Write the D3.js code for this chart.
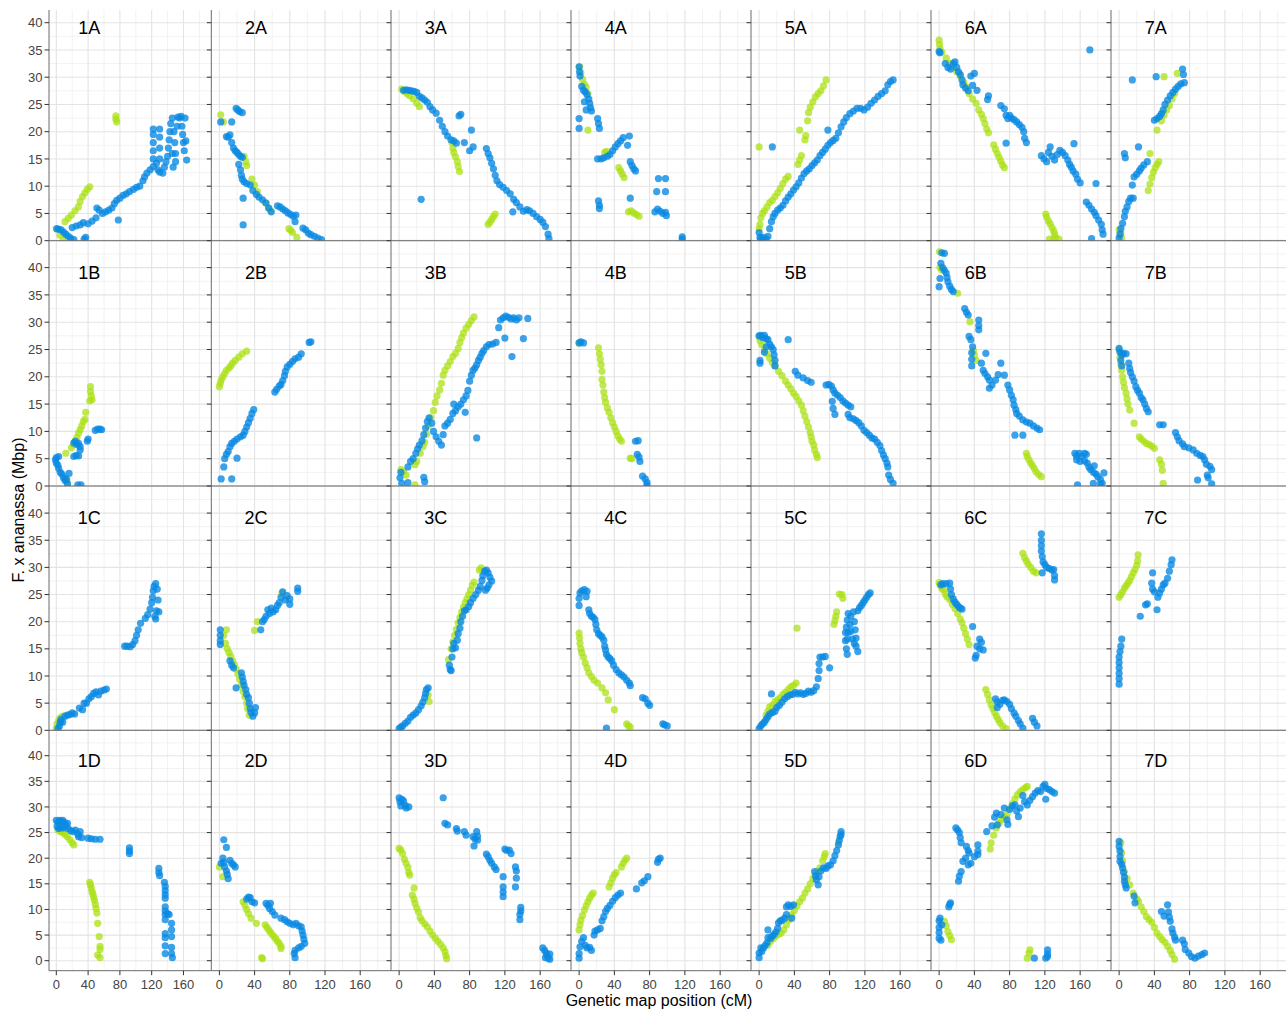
<!DOCTYPE html>
<html>
<head>
<meta charset="utf-8">
<script src="https://cdn.jsdelivr.net/npm/d3@7"></script>
<style>
  body { margin: 0; background: #fff; }
  svg { display: block; }
  text { font-family: "Liberation Sans", Arial, sans-serif; }
</style>
</head>
<body>
<svg id="chart" width="1286" height="1011"></svg>
<script>
// ------------------------------------------
// facets and ticks
// ------------------------------------------
const chromosomes = ["1", "2", "3", "4", "5", "6", "7"];
const subgenomes = ["A", "B", "C", "D"];
const xTicks = [0, 40, 80, 120, 160];
const yTicks = [0, 5, 10, 15, 20, 25, 30, 35, 40];
const xTitle = "Genetic map position (cM)";
const yTitle = "F. x ananassa (Mbp)";

// ------------------------------------------
// points [cM, Mbp] per facet
// ------------------------------------------
// row A
const green1A = [[1,2.1],[4.6,1.0],[8.8,0.2],[11,3.5],[15,4.1],[19,4.7],[23.5,5.5],[27.7,6.2],[30,7.2],[33,8.1],[36,8.8],[39,9.4],[42,9.9],[75,22.9],[75,22.3],[76,21.8]];
const blue1A = [[0.5,2.2],[3,2.1],[6,2.0],[9,1.6],[12,1.2],[15,0.8],[18,0.5],[22,0.2],[35,0.3],[37,0.6],[20,2.4],[25,2.7],[30,2.9],[34,3.3],[40,3.1],[45,3.6],[50,4.2],[51,6.0],[54,5.6],[58,5.0],[62,5.3],[66,5.6],[70,6.0],[73,6.8],[76,7.4],[78,3.8],[80,7.8],[84,8.3],[88,8.6],[92,9.0],[97,9.4],[101,9.8],[105,10.0],[109,11.0],[111,11.7],[114,12.4],[118,13.0],[122,13.6],[122,15],[122,16.5],[122,18],[122,19.5],[122,20.5],[126,14.2],[128,13.0],[130,12.6],[130,15],[130,17],[130,19],[130,20.5],[134,12.4],[136,13.5],[138,14.5],[140,15.5],[141,17],[142,18.5],[143,20],[144,21.5],[146,22.5],[148,20],[149,18],[150,16],[150,14.5],[152,21],[153,22.7],[155,22.5],[157,22.8],[158,21],[159,19.5],[160,18],[161,16.5],[162,22.5],[163,18.3],[164,14.8],[146,16],[147,13.5]];
const green2A = [[1.5,23.1],[4.5,21.8],[28,15.5],[30,14.5],[31,13.8],[37,11.3],[40,10.2],[43,9.0],[52,7.0],[56,6.0],[58,5.5],[79,2.2],[81,1.9],[83,1.5],[88,0.6]];
const blue2A = [[1.5,21.8],[14,21.8],[19,24.3],[21,24.0],[23,23.7],[26,23.5],[8,19.1],[10,19.0],[12,19.4],[14,18.0],[16,17.0],[18,16.5],[20,16.2],[22,15.8],[24,15.5],[26,15.3],[22,14.0],[24,13.0],[25,12.0],[26,11.3],[28,10.8],[27,7.8],[27,2.9],[31,10.5],[35,10.2],[38,9.2],[42,8.5],[45,8.0],[49,7.5],[53,6.9],[56,6.0],[59,5.3],[66,6.4],[69,6.2],[72,5.8],[75,5.5],[78,5.1],[81,4.8],[84,4.5],[87,4.7],[86,3.5],[95,2.3],[98,2.0],[101,1.4],[104,1.1],[108,0.8],[112,0.5],[116,0.2]];
const green3A = [[3,27.8],[6,27.4],[9,27.0],[12,26.6],[16,26.0],[20,25.2],[23,24.6],[60,18.0],[61,17.0],[62,16.2],[64,15.4],[66,14.5],[67,13.6],[68.5,12.7],[101,3.0],[103,3.4],[105,3.9],[107,4.4],[109,4.9]];
const blue3A = [[5,27.6],[8,27.7],[11,27.6],[14,27.5],[17,27.4],[20,27.2],[23,26.5],[26,26.2],[29,25.8],[32,25.4],[35,24.6],[38,24.0],[42,23.4],[46,22.1],[49,21.0],[52,20.0],[55,19.2],[59,18.5],[62,18.3],[65,17.9],[68,22.9],[70,23.2],[74,18],[80,16.5],[82,20.3],[84,17.2],[99,16.9],[101,16.0],[103,15.2],[105,14.2],[107,13.2],[109,12.0],[111,11.0],[114,10.3],[118,9.8],[122,9.2],[126,8.6],[130,7.6],[133,7.0],[137,6.2],[129,5.3],[141,5.4],[145,5.7],[148,5.5],[152,5.0],[156,4.4],[160,3.9],[163,3.4],[166,2.6],[169,1.2],[170,0.4],[25,7.6]];
const green4A = [[0.5,31.9],[2,30.8],[4,29.6],[6,28.7],[8,28.2],[10,27.0],[10,20.3],[29,16.2],[31,16.4],[45,13.4],[47,12.8],[49,12.2],[51,11.6],[56,5.3],[59,5.5],[62,5.1],[65,4.8],[68,4.5]];
const blue4A = [[0,31.9],[0.5,31],[1,30.2],[3,28.3],[5,27.6],[7,27.3],[9,26.8],[11,26.0],[12,25.2],[13,24.4],[14,23.8],[6,25.5],[8,24],[0,22.4],[0,20.6],[21,22.4],[22,21.5],[23,20.6],[21,15.0],[25,15.0],[28,15.2],[32,15.5],[35,15.8],[38,16.5],[41,17.2],[44,17.8],[47,18.3],[50,18.9],[57,19.2],[55,17.5],[58,14.5],[60,13.8],[62,13.2],[64,12.8],[22,7.3],[23,6.5],[23,5.9],[58,7.8],[86,5.3],[89,5.8],[92,5.4],[95,5.0],[98,5.2],[99,4.6],[88,9.0],[90,11.4],[98,11.4],[98,9.0],[117,0.7],[117,0.3]];
const green5A = [[0,2.2],[1,3.0],[2,4.2],[4,5.0],[6,5.5],[9,6.2],[12,7.0],[15,7.4],[18,8.1],[21,8.8],[24,9.6],[27,10.5],[30,11.3],[33,11.8],[44,14.0],[46,14.8],[48,15.6],[46,20.3],[52,18.5],[53,19.3],[55,22],[56,23.5],[58,24.5],[61,25.5],[64,26.4],[67,27.0],[70,27.5],[73,28.4],[76,29.5],[0,17.2]];
const blue5A = [[0,1.5],[1,0.6],[2,0.3],[5,0.6],[8,0.3],[10,0.8],[12,2.2],[14,3.5],[16,4.4],[18,5.0],[21,5.6],[24,6.0],[27,6.5],[30,7.3],[33,8.0],[36,8.6],[39,9.3],[42,9.9],[45,10.6],[48,11.5],[51,12.3],[54,12.8],[57,13.2],[60,13.8],[63,14.3],[66,14.8],[69,15.6],[72,16.2],[75,16.8],[78,17.5],[81,18.0],[84,18.4],[87,18.8],[90,19.8],[93,20.9],[96,21.8],[99,22.6],[103,23.3],[107,23.8],[111,24.3],[115,24.3],[119,24.0],[123,24.5],[127,25.2],[131,25.8],[135,26.5],[139,27.0],[143,27.5],[146,28.6],[149,29.2],[152,29.5],[15,17.2],[78,20.3]];
const green6A = [[0,36.8],[0.5,36.0],[1,35.2],[3,34.6],[8,33.5],[12,32.6],[16,31.9],[20,31],[24,30.2],[28,29.0],[31,28.2],[34,27.0],[38,26.0],[42,25.2],[45,24.0],[48,23.2],[50,22.4],[52,21.5],[54,20.5],[56,19.8],[62,17.6],[64,16.8],[66,16.0],[68,15.3],[70,14.6],[72,13.9],[74,13.4],[121,4.9],[122,4.3],[124,3.6],[126,3.1],[128,2.4],[130,1.8],[131,1.2],[132,0.6],[125,0.3],[130,0.3],[136,0.3]];
const blue6A = [[0,34.7],[1,34.5],[7,32.5],[10,31.8],[13,31.5],[16,32.5],[18,32.8],[20,31.8],[22,31.0],[24,30.5],[26,29.5],[27,28.6],[30,28.0],[33,27.5],[36,30.2],[40,30.7],[38,28.5],[43,27.6],[56,26.6],[55,25.9],[70,24.8],[74,24.2],[76,23.0],[78,22.4],[80,23.0],[82,22.5],[85,22.2],[88,21.8],[91,21.3],[94,20.8],[96,20],[97,18.8],[99,18.0],[76,17.9],[116,15.6],[119,15.0],[122,14.5],[124,16.2],[126,17.2],[128,15.5],[131,14.8],[134,15.8],[137,16.6],[140,16.2],[143,15.6],[146,14.8],[148,14.0],[150,13.5],[153,17.8],[152,12.8],[155,12.2],[157,11.3],[160,10.6],[178,10.5],[167,7.1],[170,6.5],[173,5.8],[176,5.2],[178,4.6],[181,3.8],[184,3.0],[185,2.0],[186,1.2],[173,0.4],[171,35.0]];
const green7A = [[0,2.0],[2,1.3],[3,0.5],[33,9.2],[35,10.4],[37,11.6],[39,12.6],[41,13.4],[43,14.0],[45,14.5],[35,16],[43,20.3],[48,22.0],[51,23.0],[54,24.0],[57,24.8],[60,26.0],[63,27.0],[51,30.1],[66,30.7]];
const blue7A = [[0,0.5],[1,1.2],[2,2.2],[4,3.2],[6,4.4],[7,5.4],[9,6.2],[11,7.2],[13,7.8],[16,7.8],[15,10.2],[17,11.7],[20,12.2],[23,12.8],[25,13.3],[28,13.9],[32,14.5],[6,16.0],[7,15.2],[22,17.2],[40,22.1],[43,22.4],[46,22.8],[48,23.3],[50,24.0],[52,25.0],[55,25.8],[58,26.6],[61,27.2],[64,27.8],[67,28.3],[70,28.8],[74,29.0],[72,31.5],[15,29.5],[42,30.1],[73,30.5]];

// row B
const green1B = [[43,18.2],[43,17.3],[44,16.5],[45,15.8],[42,15.6],[37,13.5],[36,12.2],[34,11.8],[32,11.0],[30,10.3],[28,9.7],[26,8.9],[24,8.3],[22,7.6],[19,7.0],[12,6.0],[10,1.7],[12,1.2],[14,0.5]];
const blue1B = [[-1,4.8],[0,5.2],[3,5.4],[0,4.2],[2,3.8],[3,3.2],[5,2.5],[7,2.2],[9,1.5],[11,1.0],[13,1.2],[14,0.4],[16,2.3],[27,0.2],[31,0.2],[22,7.9],[24,8.2],[26,7.6],[28,7.8],[30,7.2],[30,6.6],[22,5.4],[25,5.6],[28,5.5],[39,8.2],[40,8.6],[49,10.2],[52,10.4],[55,10.4],[57,10.3]];
const green2B = [[0,18.2],[1,18.8],[2,19.4],[4,20.0],[6,20.6],[8,21.2],[11,21.6],[13,22.0],[15,22.5],[18,23.0],[22,23.6],[26,24.2],[31,24.7]];
const blue2B = [[2,1.3],[14,1.3],[5,3.5],[6,5.0],[8,5.8],[10,6.3],[12,7.2],[14,7.8],[17,8.2],[20,8.6],[24,9.0],[27,9.3],[29,10.0],[31,10.8],[33,11.6],[35,12.4],[37,13.3],[39,14.0],[20,5.1],[63,17.2],[65,17.7],[68,18.3],[70,18.6],[72,19.3],[74,20.2],[75,21.0],[77,21.8],[80,22.3],[83,22.8],[86,23.3],[90,23.6],[93,24.2],[102,26.3],[104,26.4]];
const green3B = [[2,3.0],[5,2.6],[8,2.0],[18,3.9],[20,4.5],[24,6.0],[27,7.2],[29,8.0],[31,9.5],[33,11.0],[36,12.5],[39,13.8],[41,15.3],[43,16.5],[46,17.6],[48,18.8],[50,20.3],[52,21.2],[55,22.0],[58,22.8],[61,23.7],[64,24.3],[67,25.2],[69,26.3],[71,27.2],[73,28.0],[76,28.9],[79,29.6],[82,30.3],[85,31.0],[18,0.2]];
const blue3B = [[1,1.5],[2,2.5],[3,0.5],[10,0.6],[29,0.8],[28,1.6],[10,3.5],[13,4.5],[16,5.0],[19,6.0],[21,6.8],[23,7.5],[26,8.3],[28,9.4],[30,10.6],[32,11.8],[34,12.5],[37,11.5],[39,10.0],[42,9.0],[45,8.2],[48,7.5],[50,9.4],[52,11.0],[55,11.5],[58,12.2],[61,13.3],[64,13.8],[67,14.5],[70,15.0],[73,15.8],[76,16.5],[78,17.5],[80,19.2],[82,20.3],[84,21.2],[86,21.6],[88,22.2],[90,23.0],[92,23.6],[94,24.3],[96,24.8],[99,25.5],[102,25.9],[106,26.0],[110,26.3],[113,29.0],[115,30.4],[118,30.8],[121,31.1],[124,30.9],[127,30.6],[130,30.8],[133,30.4],[136,30.8],[146,30.7],[120,27.1],[141,27.0],[128,23.7],[88,8.8],[62,15],[75,13.5]];
const green4B = [[0,26.2],[22,25.3],[23,24.2],[24,23.2],[25,22.2],[26,21.0],[26,19.5],[27,18.5],[28,17.2],[29,16.2],[30,15.3],[32,14.3],[34,13.5],[36,12.5],[38,11.6],[40,10.8],[42,10.0],[44,9.2],[46,8.6],[48,8.2],[58,5.1],[60,5.0]];
const blue4B = [[0,26.2],[2,26.4],[5,26.2],[64,8.2],[67,8.3],[66,5.8],[68,5.3],[69,4.5],[72,1.8],[75,1.3],[77,0.6],[77,0.1]];
const green5B = [[0,27.4],[1,26.6],[3,25.9],[6,25.0],[9,24.2],[12,23.4],[15,22.6],[18,22.0],[22,21.0],[26,20.2],[30,19.2],[33,18.5],[36,17.8],[39,17.0],[42,16.4],[45,15.6],[48,14.8],[50,13.8],[52,12.8],[54,11.8],[56,10.8],[58,9.8],[59,9.0],[60,8.2],[62,7.5],[63,6.6],[65,5.8],[66,5.2]];
const blue5B = [[0,27.5],[2,27.6],[4,27.2],[6,27.6],[8,27.0],[10,26.8],[12,26.0],[14,25.5],[16,25.0],[17,24.0],[18,23.0],[18,22.0],[6,24.5],[8,25.5],[1,23.0],[1,22.5],[33,26.8],[41,21.0],[44,20.3],[50,19.8],[55,19.3],[59,19.0],[76,18.5],[79,18.6],[82,18.3],[84,17.6],[86,17.0],[89,16.6],[92,16.2],[95,15.6],[98,15.2],[101,14.8],[104,14.5],[83,15.5],[84,14.2],[86,13.1],[101,13.1],[103,12.5],[107,12.3],[110,12.0],[113,11.6],[116,11.0],[119,10.2],[122,9.8],[125,9.3],[128,8.8],[131,8.6],[134,8.0],[137,7.4],[139,6.5],[141,5.7],[143,5.0],[145,4.2],[146,3.5],[147,2.0],[149,1.2],[152,0.5]];
const green6B = [[0.5,42.9],[1,40],[3,39.6],[21,35.3],[35,30.1],[39,24.8],[40,24.0],[42,23.0],[99,6.0],[100,5.4],[102,4.8],[104,4.2],[106,3.7],[108,3.2],[110,2.6],[113,2.1],[116,1.7]];
const blue6B = [[3,42.7],[6,42.6],[2,40.8],[4,40.0],[6,39.5],[8,39.0],[9,38.2],[10,37.4],[12,36.6],[14,36.0],[16,35.6],[0,36.5],[1,38],[29,32.5],[31,31.8],[33,31.3],[45,30.4],[45,29.4],[45,28.6],[34,27.4],[36,26.8],[38,25.5],[37,24.4],[37,23.2],[37,22],[53,24.3],[48,22.5],[50,21.2],[52,20.6],[55,20.0],[57,19.4],[57,17.9],[60,18.5],[64,19.4],[67,20.4],[70,22.5],[74,20.3],[78,18.5],[80,17.6],[82,16.6],[84,15.8],[85,14.8],[87,14.0],[88,13.3],[91,12.8],[95,12.1],[99,11.7],[103,11.5],[107,11.0],[111,10.6],[114,10.3],[86,9.3],[95,9.3],[154,6.0],[156,5.5],[159,6.0],[162,5.4],[165,6.0],[167,5.8],[156,4.8],[160,4.5],[165,4.6],[168,4.2],[170,3.5],[172,3.0],[175,2.5],[178,2.2],[180,1.7],[183,1.2],[185,0.5],[157,0.2],[175,0.5],[183,0.3],[187,2.4],[176,3.7]];
const green7B = [[0,25],[1,23.5],[2,22.3],[3,21.2],[4,20.0],[5,19.0],[6,18.0],[8,17.0],[9,16.0],[10,15.0],[12,13.9],[17,11.5],[23,9.0],[25,8.6],[28,8.2],[31,7.8],[34,7.6],[37,7.3],[40,6.9],[46,4.8],[48,4.0],[49,2.9],[50,0.5]];
const blue7B = [[0,25.2],[1,24.5],[3,24.0],[5,24.3],[8,24.2],[2,23],[3,22],[11,22.5],[12,21.5],[13,20.8],[15,20.0],[17,19.2],[19,18.2],[21,17.5],[23,17.0],[25,16.2],[27,15.8],[29,15.0],[31,14.2],[33,13.6],[46,11.2],[50,11.2],[64,9.8],[66,9.0],[68,8.3],[72,7.7],[74,7.2],[79,7.0],[84,6.6],[88,6.0],[92,5.6],[95,5.4],[97,4.8],[99,4.0],[103,3.6],[105,3.0],[100,2.0],[101,1.5],[89,1.1],[105,0.4]];

// row C
const green1C = [[0,0.4],[1,1.2],[3,1.8],[5,2.3],[8,2.6]];
const blue1C = [[2,0.3],[4,0.8],[5,1.5],[6,2.0],[8,1.5],[11,2.6],[14,2.8],[17,2.9],[20,3.2],[23,3.0],[29,4.1],[33,3.8],[35,5.0],[38,5.0],[41,5.8],[44,6.2],[47,6.8],[50,7.1],[53,6.5],[56,7.2],[60,7.4],[63,7.6],[86,15.5],[89,15.5],[93,15.4],[96,15.8],[99,16.5],[101,17.5],[103,18.5],[106,19.7],[112,20.6],[115,21.3],[118,22.3],[120,23.5],[121,24.5],[122,25.7],[123,26.5],[125,27.0],[127,26.0],[124,21],[126,22],[128,24.0],[129,21.8],[125,20.5]];
const green2C = [[8,18.5],[5,17.5],[7,16.0],[9,15.0],[11,14.3],[13,13.6],[15,12.8],[17,12.1],[19,11.3],[21,10.4],[23,9.4],[25,8.3],[27,7.2],[29,6.2],[31,5.0],[32,4.0],[34,2.8],[40,18.4],[43,20.0],[71,25.3]];
const blue2C = [[1,18.5],[1,17.5],[1,16.5],[1,15.8],[12,12.8],[14,12.0],[16,11.5],[19,7.8],[25,10.6],[26,9.8],[27,9.0],[28,8.3],[30,7.5],[31,6.6],[33,6.0],[34,5.0],[35,4.0],[36,3.3],[38,2.6],[40,3.2],[41,4.2],[47,18.5],[49,20],[51,20.4],[53,21.0],[55,22.2],[57,21.5],[59,22.5],[61,21.8],[64,22.2],[66,23.0],[68,23.5],[70,24.5],[72,25.5],[75,24.0],[77,24.8],[80,24.2],[80,23.2],[89,26.2],[89,25.6]];
const green3C = [[33,6.5],[34,5.3],[56,13.0],[59,15.0],[61,16.3],[63,17.5],[65,18.6],[67,19.8],[69,20.8],[71,21.8],[73,22.7],[75,23.5],[77,24.2],[79,25.0],[81,25.8],[83,26.7],[85,27.3],[91,29.5],[93,29.9]];
const blue3C = [[0,0.3],[2,0.6],[4,0.8],[7,1.3],[10,1.7],[13,2.4],[16,2.8],[19,3.2],[22,3.8],[25,4.5],[27,5.2],[29,6.0],[30,6.8],[31,7.5],[33,7.8],[57,12.0],[58,11.2],[59,11.0],[60,13.5],[61,15.0],[62,16.0],[64,15.2],[66,16.6],[67,17.8],[69,18.8],[70,20.0],[72,21.0],[74,22.0],[76,22.2],[79,22.8],[81,23.5],[84,24.3],[87,25.0],[90,25.8],[92,26.5],[94,27.6],[95,28.5],[97,29.3],[99,29.5],[101,29.0],[103,28.2],[105,27.5],[98,25.8],[100,26.2],[102,26.8]];
const green4C = [[0,17.9],[0.5,17.0],[1,16.0],[2,15.0],[3,14.3],[5,13.5],[7,12.4],[9,11.5],[11,10.6],[14,9.9],[17,9.2],[21,8.7],[26,7.8],[30,6.9],[33,5.6],[40,3.8],[54,1.2],[56,0.8],[58,0.6]];
const blue4C = [[0,23],[0,24.3],[1,25.3],[3,25.7],[6,25.9],[9,25.6],[8,24.6],[11,22.2],[12,21.5],[14,21.0],[16,20.8],[18,20.4],[19,19.5],[20,18.5],[22,17.8],[24,17.5],[26,17.2],[28,16.6],[29,15.5],[30,14.8],[31,14.0],[33,13.5],[35,13.2],[37,12.8],[39,12.0],[42,11.2],[45,10.6],[48,10.2],[51,9.8],[54,9.2],[57,8.7],[58,8.2],[72,6.0],[75,5.8],[78,5.0],[80,4.6],[95,1.2],[97,1.0],[100,0.8],[31,0.4]];
const green5C = [[8,2.8],[10,3.5],[12,4.3],[15,4.6],[18,5.3],[21,5.6],[24,6.0],[27,6.6],[30,7.0],[33,7.5],[36,8.0],[39,8.3],[42,8.7],[43,18.8],[85,19.5],[86,20.2],[87,21.0],[88,21.8],[91,25.1],[94,25.0],[95,24.3]];
const blue5C = [[0,0.3],[2,0.8],[4,1.2],[6,1.5],[8,2.0],[10,2.5],[12,3.0],[14,6.7],[15,3.3],[18,3.5],[20,4.2],[23,4.6],[26,5.2],[29,5.8],[32,6.2],[35,6.5],[38,6.6],[41,7.0],[44,6.7],[47,6.9],[50,6.6],[53,6.8],[56,7.2],[59,7.0],[62,7.3],[65,8.0],[67,9.5],[68,11.0],[68,12.3],[69,13.5],[72,13.5],[75,13.6],[80,11.5],[98,16.5],[99,15.0],[100,14.0],[98,18.0],[99,19.0],[100,20.3],[101,21.5],[103,19.5],[104,18.2],[106,16.8],[107,21.8],[108,20.0],[109,18.5],[110,17.0],[110,15.5],[112,14.5],[112,22.0],[114,22.6],[116,23.0],[118,23.5],[120,24.0],[122,24.5],[124,25.0],[126,25.3],[100,16.8],[101,18],[104,21],[108,16]];
const green6C = [[0,27.2],[1,26.8],[3,26.2],[5,25.9],[7,25.1],[9,24.6],[12,24.1],[15,23.2],[18,22.4],[21,21.5],[24,20.5],[26,19.8],[28,18.8],[30,17.8],[32,16.8],[34,15.8],[53,7.5],[55,6.6],[57,5.6],[59,4.7],[61,4.0],[63,3.3],[65,2.6],[67,2.0],[69,1.4],[72,0.8],[76,0.3],[95,32.6],[97,31.8],[99,31.2],[101,30.6],[104,30.0],[107,29.3],[110,29.0]];
const blue6C = [[2,26.8],[4,27.0],[8,27.0],[12,27.1],[13,26.0],[14,25.0],[16,24.2],[18,23.6],[20,23.2],[22,22.8],[24,22.5],[26,22.3],[38,19.1],[46,16.8],[48,16.2],[43,15.5],[46,15.0],[50,14.8],[41,13.3],[42,13.8],[64,5.8],[66,5.2],[66,4.2],[69,4.8],[72,5.5],[74,5.6],[77,5.3],[80,4.8],[82,4.0],[85,3.2],[87,2.6],[90,1.8],[92,1.2],[95,0.4],[106,2.2],[108,1.5],[111,0.8],[116,36.2],[116,35.0],[116,34.0],[116,33.0],[117,32.0],[118,31.0],[120,30.5],[122,30.0],[125,29.8],[128,29.5],[130,29.6],[131,28.5],[131,27.7],[117,29.0]];
const green7C = [[0,24.5],[2,25.0],[4,25.5],[6,26.2],[8,26.6],[10,27.1],[12,27.6],[14,28.3],[16,29.0],[18,29.6],[20,30.4],[21,31.2],[21.5,32.3]];
const blue7C = [[0,8.5],[0,9.5],[0,10.5],[0,11.5],[0,12.5],[0,13.5],[1,14.5],[2,15.5],[3,16.8],[24,21.0],[30,23.1],[32,23.3],[37,27.1],[38,26.0],[38,29.0],[40,25.5],[43,22.2],[44,24.5],[46,25.3],[48,26.0],[50,26.8],[52,27.1],[55,28.0],[57,29.3],[59,30.5],[60,31.4]];

// row D
const green1D = [[2,25.5],[5,25.2],[8,25.0],[11,24.6],[14,24.2],[17,23.6],[20,23.0],[22,22.6],[42,15.3],[43,14.8],[44,14.2],[45,13.5],[46,13.0],[47,12.4],[48,11.8],[49,11.0],[50,10.2],[51,9.3],[52,7.3],[54,4.7],[55,2.8],[55,2.2],[52,1.1],[55,0.6]];
const blue1D = [[0,27.4],[2,27.0],[4,27.4],[6,27.2],[8,27.4],[10,27.0],[1,26.2],[3,25.8],[6,26.0],[9,25.9],[12,26.4],[14,26.8],[15,25.8],[18,25.4],[21,25.2],[24,25.5],[27,24.7],[30,25.2],[28,24.2],[32,24.0],[40,23.9],[44,23.8],[49,23.7],[55,23.7],[92,22.0],[92,21.4],[92,20.9],[129,18.0],[129,17.2],[130,16.6],[136,15.3],[137,14.5],[137,13.7],[137,12.9],[137,12.2],[137,10.5],[137,9.7],[137,9.0],[140,9.2],[142,9.0],[137,8.0],[145,7.3],[137,5.3],[145,6.0],[145,4.7],[137,4.5],[137,2.9],[145,2.6],[137,1.4],[145,1.4],[146,0.6]];
const green2D = [[0,18.3],[4,16.4],[27,11.5],[29,10.8],[31,10.0],[33,9.2],[36,8.3],[42,7.3],[52,7.0],[54,6.5],[56,6.0],[58,5.6],[60,5.1],[62,4.7],[64,4.3],[66,3.8],[68,3.4],[70,2.8],[70,2.4],[48,0.6],[49,0.4]];
const blue2D = [[2,19.0],[5,23.6],[8,22.1],[4,20.0],[5,19.2],[6,18.3],[8,17.5],[9,16.8],[10,16.0],[12,19.6],[14,19.0],[16,18.7],[18,18.3],[31,12.0],[33,12.4],[35,12.3],[37,11.5],[40,11.3],[53,11.2],[55,10.8],[58,11.2],[57,10.2],[60,9.6],[63,8.9],[70,8.3],[74,8.0],[77,7.6],[80,7.3],[84,7.0],[87,7.3],[90,6.8],[93,6.6],[94,5.8],[95,5.0],[96,4.2],[97,3.4],[93,2.8],[90,2.5],[86,2.0],[85,1.4],[86,0.6]];
const green3D = [[0,21.9],[2,21.6],[4,20.9],[6,19.8],[8,19.0],[10,18.2],[11,17.2],[12,16.7],[17,14.2],[15,12.8],[17,12.0],[18,11.2],[20,10.3],[22,9.5],[24,8.4],[26,7.8],[29,7.2],[32,6.6],[35,5.8],[38,5.0],[41,4.4],[44,3.8],[47,3.2],[50,2.5],[52,1.8],[53,1.0],[54,0.4]];
const blue3D = [[0,31.8],[1,31.0],[2,30.2],[3,31.5],[5,31.2],[7,30.3],[8,29.8],[11,30.0],[50,31.8],[52,26.8],[55,26.5],[65,25.8],[66,25.3],[74,25.2],[76,24.5],[84,24.2],[86,23.8],[88,25.2],[89,24.3],[89,23.5],[85,22.4],[99,20.8],[101,20.3],[103,19.6],[105,19.0],[108,18.3],[110,17.8],[118,16.4],[118,14.4],[118,13.4],[118,12.5],[120,21.8],[122,21.5],[125,21.6],[127,20.9],[132,18.3],[133,17.5],[133,16.1],[132,14.4],[138,10.4],[138,9.7],[137,9.0],[137,8.0],[163,2.5],[165,2.0],[167,1.5],[168,1.0],[169,0.5],[171,1.3],[171,0.3],[166,0.6]];
const green4D = [[0,6.0],[1,7.0],[2,7.9],[4,8.8],[6,9.9],[8,10.7],[10,11.5],[12,12.2],[14,12.8],[16,13.2],[34,14.4],[36,15.2],[38,16.1],[40,16.8],[42,17.2],[48,18.3],[50,19.0],[52,19.6],[54,20.0]];
const blue4D = [[0,0.5],[0,1.4],[1,2.7],[3,3.8],[5,4.5],[7,3.0],[9,2.5],[12,2.6],[14,2.0],[17,5.0],[18,5.8],[21,6.0],[24,6.3],[26,7.8],[28,8.6],[30,9.6],[32,10.2],[35,10.8],[38,11.6],[41,12.3],[44,12.8],[47,13.2],[65,14.0],[71,15.2],[74,15.6],[78,16.4],[89,19.2],[90,19.8],[92,20.0]];
const green5D = [[10,3.0],[13,3.8],[16,4.3],[19,4.8],[22,5.1],[25,5.4],[28,6.0],[31,7.0],[34,8.0],[37,9.0],[40,9.8],[43,10.7],[46,11.5],[49,12.2],[52,13.2],[55,14.0],[58,15.0],[61,16.0],[64,16.8],[67,17.5],[69,18.1],[72,19.5],[74,20.3],[75,20.9],[90,23.0]];
const blue5D = [[0,0.6],[0,1.5],[2,2.5],[3,1.8],[5,2.5],[7,3.0],[9,3.5],[10,4.5],[10,6.0],[13,4.4],[15,4.8],[17,5.1],[19,5.6],[21,6.3],[22,7.4],[24,7.8],[26,7.9],[29,8.3],[31,9.0],[31,10.5],[33,10.9],[36,10.6],[37,8.3],[39,10.9],[63,17.4],[64,16.5],[65,15.8],[67,14.8],[68,16.4],[70,17.5],[73,18.1],[76,18.0],[78,18.5],[81,18.7],[84,19.5],[86,20.5],[88,21.5],[90,22.6],[91,23.5],[92,24.3],[93,25.2],[93,24.6]];
const green6D = [[6,7.7],[8,6.8],[10,5.7],[12,4.9],[14,4.1],[58,21.8],[59,23.0],[62,24.5],[65,25.9],[68,26.8],[71,27.5],[74,28.0],[77,28.5],[80,29.6],[83,30.6],[86,31.6],[89,32.4],[92,33.0],[95,33.4],[98,33.8],[100,34.0],[100,0.5],[102,1.5],[103,2.1]];
const blue6D = [[0,4.4],[0,5.5],[0,6.5],[0,7.8],[1,8.3],[3,7.0],[2,4.0],[11,10.5],[12,11.0],[13,11.3],[19,25.9],[21,25.5],[23,25.0],[24,24.0],[25,23.0],[22,15.5],[23,16.5],[25,17.4],[27,19.4],[30,20.0],[31,22.3],[33,21.5],[34,21.0],[33,18.7],[36,19.0],[40,20.3],[44,22.6],[44,21.4],[44,20.7],[54,25.2],[60,26.3],[63,28.0],[65,28.8],[66,26.5],[70,28.5],[74,29.8],[77,27.5],[78,26.6],[80,29.5],[83,30.2],[86,30.4],[88,29.2],[90,28.1],[92,29.8],[95,32.2],[97,31.0],[100,30.4],[103,31.3],[106,32.0],[109,32.7],[112,33.2],[115,33.0],[118,34.0],[120,34.4],[122,33.6],[125,33.4],[128,33.0],[131,32.7],[121,31.5],[108,0.5],[121,0.5],[123,0.8],[123,2.1],[123,1.3]];
const green7D = [[2,23.0],[3,21.0],[4,19.5],[6,17.4],[9,16.0],[12,14.8],[16,13.2],[20,12.0],[22,11.6],[25,10.5],[28,9.6],[31,8.6],[34,8.0],[37,7.5],[40,6.5],[43,5.4],[46,4.7],[49,4.1],[52,3.6],[55,2.8],[58,2.0],[60,1.2],[63,0.3]];
const blue7D = [[0,23.3],[0,22.3],[1,21.4],[1,20.3],[1,19.4],[3,18.8],[4,18.1],[5,17.2],[6,16.3],[6,15.5],[7,14.8],[8,14.2],[17,12.6],[18,11.3],[48,9.6],[51,8.7],[55,10.9],[56,9.5],[57,8.5],[58,7.7],[60,6.2],[61,5.4],[63,4.6],[64,4.0],[72,4.0],[74,3.3],[75,2.2],[79,1.5],[82,0.8],[86,0.5],[90,0.9],[94,1.2],[97,1.5]];

// lookup table built from the arrays above
const panels = {
  "1A": [green1A, blue1A], "2A": [green2A, blue2A], "3A": [green3A, blue3A], "4A": [green4A, blue4A],
  "5A": [green5A, blue5A], "6A": [green6A, blue6A], "7A": [green7A, blue7A],
  "1B": [green1B, blue1B], "2B": [green2B, blue2B], "3B": [green3B, blue3B], "4B": [green4B, blue4B],
  "5B": [green5B, blue5B], "6B": [green6B, blue6B], "7B": [green7B, blue7B],
  "1C": [green1C, blue1C], "2C": [green2C, blue2C], "3C": [green3C, blue3C], "4C": [green4C, blue4C],
  "5C": [green5C, blue5C], "6C": [green6C, blue6C], "7C": [green7C, blue7C],
  "1D": [green1D, blue1D], "2D": [green2D, blue2D], "3D": [green3D, blue3D], "4D": [green4D, blue4D],
  "5D": [green5D, blue5D], "6D": [green6D, blue6D], "7D": [green7D, blue7D]
};

// ------------------------------------------
// layout (pixels)
// ------------------------------------------
const colEdges = [49, 211.3, 391, 571, 751, 931, 1111, 1291];
const rowBoxes = [
  { top: 10,    zero: 240.7, k: 5.45,  bottom: 240.7 },
  { top: 240.7, zero: 486,   k: 5.46,  bottom: 486 },
  { top: 486,   zero: 730.3, k: 5.43,  bottom: 730.3 },
  { top: 730.3, zero: 960.7, k: 5.125, bottom: 970.7 }
];
const xDomain = [-9.2, 195];
const seriesColors = ["#abe015", "#0a8ae2"];
const seriesOpacity = [0.75, 0.8];

const svg = d3.select("#chart");
svg.append("rect").attr("width", 1286).attr("height", 1011).attr("fill", "#fff");
const defs = svg.append("defs");

const gridLayer = svg.append("g");
const pointLayer = svg.append("g");
const axisLayer = svg.append("g");
const textLayer = svg.append("g");

subgenomes.forEach((sg, r) => {
  const rb = rowBoxes[r];
  const y = d3.scaleLinear().domain([0, 40]).range([rb.zero, rb.zero - 40 * rb.k]);

  chromosomes.forEach((chr, c) => {
    const x0 = colEdges[c], x1 = colEdges[c + 1];
    const x = d3.scaleLinear().domain(xDomain).range([x0, x1]);
    const id = chr + sg;

    // gridlines (minor first)
    const g = gridLayer.append("g");
    const inside = v => y(v) >= rb.top - 0.5 && y(v) <= rb.bottom;
    d3.range(2.5, 46, 5).filter(inside).forEach(v => {
      g.append("line").attr("x1", x0).attr("x2", x1).attr("y1", y(v)).attr("y2", y(v))
        .attr("stroke", "#f0f0f0").attr("stroke-width", 0.9);
    });
    [20, 60, 100, 140, 180].forEach(v => {
      g.append("line").attr("x1", x(v)).attr("x2", x(v)).attr("y1", rb.top).attr("y2", rb.bottom)
        .attr("stroke", "#f0f0f0").attr("stroke-width", 0.9);
    });
    d3.range(0, 46, 5).filter(inside).forEach(v => {
      g.append("line").attr("x1", x0).attr("x2", x1).attr("y1", y(v)).attr("y2", y(v))
        .attr("stroke", "#e4e4e4").attr("stroke-width", 1.1);
    });
    xTicks.forEach(v => {
      g.append("line").attr("x1", x(v)).attr("x2", x(v)).attr("y1", rb.top).attr("y2", rb.bottom)
        .attr("stroke", "#e4e4e4").attr("stroke-width", 1.1);
    });

    // points, clipped to the panel
    const clipId = "clip" + id;
    defs.append("clipPath").attr("id", clipId).append("rect")
      .attr("x", x0).attr("y", rb.top).attr("width", x1 - x0).attr("height", rb.bottom - rb.top);
    const pg = pointLayer.append("g").attr("clip-path", `url(#${clipId})`);
    panels[id].forEach((pts, s) => {
      pg.selectAll(null).data(pts).join("circle")
        .attr("cx", d => x(d[0]))
        .attr("cy", d => y(d[1]))
        .attr("r", 3.6)
        .attr("fill", seriesColors[s])
        .attr("fill-opacity", seriesOpacity[s]);
    });

    // axis lines
    axisLayer.append("line").attr("x1", x0).attr("x2", x0).attr("y1", rb.top).attr("y2", rb.bottom)
      .attr("stroke", "#6a6a6a").attr("stroke-width", 1);
    axisLayer.append("line").attr("x1", x0).attr("x2", x1).attr("y1", rb.bottom).attr("y2", rb.bottom)
      .attr("stroke", "#6a6a6a").attr("stroke-width", 1);

    // y ticks on every panel, labels on the first column
    yTicks.forEach(v => {
      axisLayer.append("line").attr("x1", x0 - 4.5).attr("x2", x0).attr("y1", y(v)).attr("y2", y(v))
        .attr("stroke", "#333").attr("stroke-width", 1);
      if (c === 0) {
        textLayer.append("text").attr("x", x0 - 6.5).attr("y", y(v) + 4.6)
          .attr("text-anchor", "end").attr("font-size", 13).attr("fill", "#444").text(v);
      }
    });

    // x ticks on the bottom row
    if (r === subgenomes.length - 1) {
      xTicks.forEach(v => {
        axisLayer.append("line").attr("x1", x(v)).attr("x2", x(v))
          .attr("y1", rb.bottom).attr("y2", rb.bottom + 4.5)
          .attr("stroke", "#333").attr("stroke-width", 1);
        textLayer.append("text").attr("x", x(v)).attr("y", rb.bottom + 18)
          .attr("text-anchor", "middle").attr("font-size", 13).attr("fill", "#444").text(v);
      });
    }

    // facet label
    textLayer.append("text").attr("x", x(41.5)).attr("y", y(40) + 11)
      .attr("text-anchor", "middle").attr("font-size", 18).attr("fill", "#000").text(id);
  });
});

// axis titles
textLayer.append("text").attr("x", 659).attr("y", 1005.5)
  .attr("text-anchor", "middle").attr("font-size", 16).attr("fill", "#000").text(xTitle);
textLayer.append("text").attr("transform", "translate(23.5,510) rotate(-90)")
  .attr("text-anchor", "middle").attr("font-size", 16).attr("fill", "#000").text(yTitle);
</script>
</body>
</html>
